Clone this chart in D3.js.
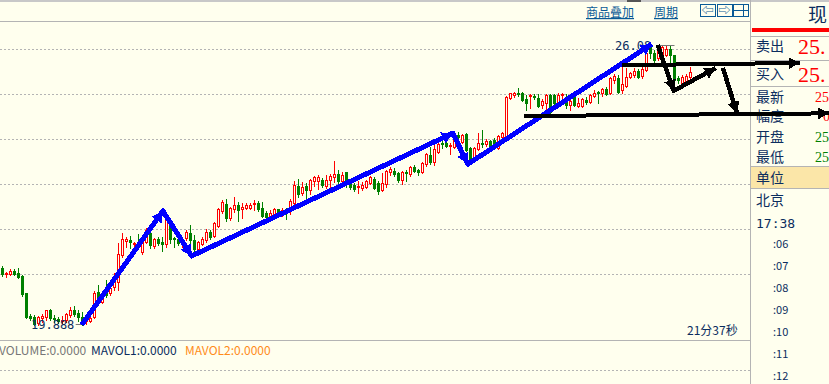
<!DOCTYPE html>
<html>
<head>
<meta charset="utf-8">
<script src="https://cdn.jsdelivr.net/npm/d3@7"></script>
<style>
html, body { margin: 0; padding: 0; background: #ffffee; overflow: hidden; }
svg { display: block; }
text { font-family: "Noto Sans CJK SC", "DejaVu Sans", sans-serif; }
.mono { font-family: "DejaVu Sans Mono", monospace; }
.serif { font-family: "Liberation Serif", serif; }
</style>
</head>
<body>
<script>
const Width = 829;
const Height = 384;

// candles, left to right. g = fell, r = rose
const candleDir = ("grrggggggrrrgggrrrgg" + "grrrgrgrrrrrgrgrrgrg" + "grgggrrggrrrgrrrgrrg" + "rrrrgggrrgrgrrgrgrrr"
  + "grrrgrgggrrrrggrrrgg" + "rgrggrrgrrggrrgrggrr" + "grggrrrrrgggrggrrggr" + "rgrgrrgrrgrgrrgrrrrg" + "rrggrrrgggrrr").split("")

const candleHigh = [21.18,21.04,21.11,21.11,21.13,20.98,20.58,20.11,20.09,20.07,20.11,20.2,20.22,20.09,20.04,20.07,20.13,20.27,20.29,20.2,
  20.16,20.07,20.09,20.62,20.76,20.58,20.87,20.76,21.02,21.69,21.91,21.82,21.84,21.71,21.89,21.87,22.02,21.98,21.8,21.82,
  21.82,22.31,22.16,21.82,21.87,21.8,21.98,22.09,21.87,21.73,21.82,22.0,21.98,22.16,22.47,22.64,22.67,22.49,22.71,22.6,
  22.58,22.58,22.58,22.64,22.62,22.6,22.4,22.42,22.47,22.44,22.47,22.47,22.67,23.07,23.11,23.04,23.02,23.11,23.18,23.2,
  23.13,23.2,23.22,23.51,23.31,23.27,23.27,23.07,23.02,23.07,23.04,23.09,23.18,23.16,23.07,23.24,23.31,23.38,23.36,23.27,
  23.29,23.31,23.4,23.42,23.33,23.49,23.69,23.82,23.89,23.91,23.96,24.04,23.91,24.04,24.16,24.11,24.13,23.82,23.82,24.13,
  24.2,24.0,23.98,24.02,24.09,24.16,24.96,25.02,25.04,25.13,25.04,24.98,25.0,25.0,25.0,24.89,25.0,25.0,25.0,25.02,
  25.02,25.0,24.98,24.98,24.91,24.91,24.93,25.0,25.09,25.07,25.13,25.16,25.38,25.44,25.42,25.6,25.58,25.49,25.58,25.56,
  25.6,25.93,26.07,25.98,26.08,26.07,26.08,26.08,25.87,25.4,25.42,25.44,25.6]
const candleTop = [21.13,21.02,21.07,21.07,21.02,20.96,20.58,20.07,20.04,20.04,20.07,20.2,20.2,20.02,20.0,19.98,20.11,20.2,20.2,20.13,
  20.04,20.02,20.02,20.58,20.6,20.47,20.64,20.69,20.87,21.44,21.78,21.78,21.76,21.69,21.71,21.82,21.98,21.91,21.78,21.78,
  21.71,22.27,22.13,21.8,21.78,21.76,21.93,21.91,21.76,21.71,21.78,21.93,21.93,22.13,22.44,22.6,22.56,22.47,22.53,22.53,
  22.49,22.53,22.53,22.58,22.58,22.47,22.36,22.36,22.44,22.44,22.42,22.42,22.62,22.98,22.96,22.93,22.96,23.09,23.16,23.16,
  23.09,23.09,23.18,23.22,23.22,23.2,23.27,23.02,22.98,22.96,22.98,23.07,23.16,23.11,23.02,23.02,23.29,23.33,23.29,23.24,
  23.27,23.27,23.38,23.38,23.31,23.47,23.67,23.64,23.78,23.89,23.91,23.91,23.87,24.02,24.09,24.09,24.11,23.8,23.8,23.91,
  23.91,23.96,23.96,23.98,24.07,24.13,24.93,25.02,25.02,25.02,25.02,24.89,24.98,24.96,24.91,24.84,24.98,24.98,24.98,24.98,
  25.0,24.82,24.84,24.93,24.8,24.89,24.87,24.98,25.02,25.04,25.11,25.11,25.36,25.4,25.36,25.22,25.38,25.47,25.51,25.51,
  25.56,25.91,26.04,25.91,26.08,26.04,26.0,26.0,25.87,25.36,25.38,25.4,25.49]
const candleBottom = [21.0,21.0,21.0,21.0,20.93,20.56,20.04,20.02,19.89,19.91,20.02,20.04,20.02,20.0,19.96,19.96,19.98,20.09,20.11,20.04,
  19.96,19.96,19.96,20.04,20.38,20.38,20.53,20.58,20.71,20.82,21.42,21.73,21.71,21.67,21.6,21.49,21.71,21.64,21.62,21.69,
  21.67,21.67,21.78,21.78,21.69,21.69,21.8,21.76,21.56,21.56,21.67,21.76,21.82,21.84,22.07,22.4,22.24,22.24,22.44,22.42,
  22.44,22.47,22.47,22.56,22.44,22.29,22.27,22.27,22.33,22.31,22.33,22.38,22.42,22.58,22.78,22.8,22.87,22.87,23.07,23.07,
  22.98,22.96,23.09,23.16,23.07,23.07,23.04,22.93,22.89,22.93,22.91,22.93,23.02,22.91,22.84,22.87,23.0,23.27,23.22,23.09,
  23.09,23.24,23.22,23.29,23.27,23.27,23.44,23.49,23.49,23.71,23.89,23.84,23.84,23.82,24.04,23.93,23.76,23.53,23.6,23.78,
  23.89,23.89,23.82,23.91,23.8,24.04,24.07,24.91,24.98,25.0,24.87,24.8,24.96,24.93,24.73,24.76,24.8,24.6,24.8,24.82,
  24.98,24.76,24.76,24.76,24.73,24.73,24.82,24.82,24.96,25.02,25.02,25.0,25.02,25.31,25.04,25.09,25.18,25.38,25.42,25.38,
  25.4,25.53,25.91,25.76,25.8,25.76,25.87,25.87,25.31,25.31,25.24,25.24,25.38]
const candleLow = [20.96,20.93,20.98,20.98,20.91,20.51,20.02,19.98,19.87,19.87,19.93,19.98,19.98,19.93,19.91,19.91,19.93,20.04,20.07,19.96,
  19.87,19.89,19.93,20.02,20.31,20.36,20.49,20.53,20.64,20.64,21.38,21.6,21.58,21.49,21.58,21.44,21.69,21.58,21.58,21.64,
  21.51,21.6,21.69,21.6,21.64,21.6,21.76,21.58,21.49,21.53,21.64,21.71,21.78,21.82,22.04,22.36,22.18,22.2,22.38,22.18,
  22.24,22.44,22.44,22.42,22.4,22.27,22.22,22.2,22.27,22.29,22.29,22.22,22.33,22.53,22.71,22.76,22.64,22.78,22.96,22.89,
  22.93,22.91,22.91,23.04,23.02,23.0,22.93,22.89,22.84,22.8,22.87,22.91,23.0,22.89,22.78,22.84,22.93,23.2,23.18,23.04,
  23.0,23.07,23.18,23.27,23.2,23.24,23.4,23.44,23.42,23.69,23.8,23.82,23.67,23.8,23.96,23.91,23.73,23.47,23.58,23.76,
  23.82,23.84,23.8,23.84,23.78,23.91,24.02,24.89,24.93,24.96,24.84,24.64,24.69,24.89,24.71,24.69,24.58,24.58,24.76,24.8,
  24.87,24.69,24.64,24.73,24.71,24.71,24.78,24.8,24.93,24.8,24.96,24.98,25.0,25.24,25.02,25.02,25.16,25.36,25.38,25.36,
  25.36,25.51,25.8,25.71,25.76,25.71,25.84,25.69,25.24,25.24,25.2,25.2,25.36]

const gridPrices = [26, 25, 24, 23, 22, 21]
const timeLabels = [":06", ":07", ":08", ":09", ":10", ":11", ":12"]
const quoteLabels = ["卖出", "买入", "最新", "幅度", "开盘", "最低"]

// drawn over the chart by hand: [candle index, price]
const blueTrend = [[19.8,19.87],[40.1,22.4],[47.3,21.4],[112.6,24.13],[116.3,23.44],[162.3,26.11]]
const blackSwing = [[163.8,26.09],[167.8,25.07],[178.3,25.58]]
const blackDrop = [[180.1,25.58],[183.6,24.58]]
const blackUpperLine = [[154.8,25.64],[199.3,25.69]]
const blackLowerLine = [[130.3,24.51],[206.6,24.57]]

const svg = d3.select('body')
  .append('svg')
    .attr('width', Width)
    .attr('height', Height);

const xScale = d3.scaleLinear().domain([0, 172]).range([2.5, 690.5]);
const yScale = d3.scaleLinear().domain([21, 26]).range([274, 49]);

const bg = "#ffffee"
const lineGrey = "#b4b4b4"
const navy = "#0b2d5e"
const red = "#ff0000"
const green = "#008000"

// frame
svg.append('rect').attr('width', Width).attr('height', Height).attr('fill', bg);
svg.append('rect').attr('width', Width).attr('height', 2).attr('fill', '#c8c8c8');
svg.append('rect').attr('x', 627).attr('width', 14).attr('height', 2).attr('fill', '#555');

const hline = (y, x1, x2) => svg.append('line')
  .attr('x1', x1).attr('x2', x2).attr('y1', y + .5).attr('y2', y + .5)
  .attr('stroke', lineGrey);

hline(21, 0, 750);
hline(340, 0, 750);
svg.append('line').attr('x1', 750.5).attr('x2', 750.5).attr('y1', 0).attr('y2', Height).attr('stroke', lineGrey);

// grid
svg.selectAll('.grid')
  .data(gridPrices)
  .join('line')
    .attr('class', 'grid')
    .attr('x1', 0).attr('x2', 750)
    .attr('y1', d => yScale(d) + .5).attr('y2', d => yScale(d) + .5)
    .attr('stroke', lineGrey)
    .attr('stroke-dasharray', '2,2');
svg.append('line').attr('x1', 0).attr('x2', 750).attr('y1', 370.5).attr('y2', 370.5)
  .attr('stroke', lineGrey).attr('stroke-dasharray', '2,2');

// candles
const candles = candleHigh.map((h, i) => ({
  i, high: h, top: candleTop[i], bottom: candleBottom[i], low: candleLow[i], up: candleDir[i] !== 'g'
}));

const candleG = svg.append('g');
candleG.selectAll('.wick')
  .data(candles)
  .join('rect')
    .attr('class', 'wick')
    .attr('x', d => xScale(d.i) - .5)
    .attr('width', 1)
    .attr('y', d => Math.round(yScale(d.high)))
    .attr('height', d => Math.round(yScale(d.low)) - Math.round(yScale(d.high)) + 1)
    .attr('fill', d => d.up ? red : green);

candleG.selectAll('.body')
  .data(candles)
  .join('rect')
    .attr('class', 'body')
    .attr('x', d => xScale(d.i) - 1)
    .attr('width', 2)
    .attr('y', d => Math.round(yScale(d.top)) + .5)
    .attr('height', d => Math.round(yScale(d.bottom)) - Math.round(yScale(d.top)))
    .attr('fill', d => d.up ? bg : green)
    .attr('stroke', d => d.up ? red : green);

// high / low markers
const marker = (price, x1, x2) => svg.append('line')
  .attr('x1', xScale(x1)).attr('x2', xScale(x2))
  .attr('y1', Math.round(yScale(price)) + .5).attr('y2', Math.round(yScale(price)) + .5)
  .attr('stroke', '#777');
marker(19.89, 18.3, 20.5);
marker(26.08, 164, 168);

const label = (str, x, y, size, fill, anchor) => svg.append('text')
  .attr('x', x).attr('y', y)
  .attr('font-size', size)
  .attr('fill', fill)
  .attr('text-anchor', anchor || 'start')
  .text(str);

label("19.888", 31, 329, 12, navy).attr('class', 'mono');
label("26.08", 615, 50, 12, navy).attr('class', 'mono');

// toolbar
label("商品叠加", 586, 17, 12, "#0a5a96").attr('text-decoration', 'underline');
label("周期", 654, 17, 12, "#0a5a96").attr('text-decoration', 'underline');
[700, 717, 733].forEach(x => {
  svg.append('rect').attr('x', x + .5).attr('y', 4.5).attr('width', 15).attr('height', 12)
    .attr('fill', bg).attr('stroke', '#0a5a96');
});
label("⇦", 707.5, 15, 12, "#0a5a96", 'middle');
label("⇨", 724.5, 15, 12, "#0a5a96", 'middle');
svg.append('line').attr('x1', 733).attr('x2', 748).attr('y1', 10.5).attr('y2', 10.5).attr('stroke', '#0a5a96');
svg.append('line').attr('x1', 743.5).attr('x2', 743.5).attr('y1', 4).attr('y2', 17).attr('stroke', '#0a5a96');

// quote panel
label("现", 808, 22, 19, navy);
svg.append('rect').attr('x', 752).attr('y', 28).attr('width', 77).attr('height', 4).attr('fill', red);
[36, 60, 86, 166, 188].forEach(y => hline(y, 751, Width));
svg.append('rect').attr('x', 751).attr('y', 167).attr('width', 78).attr('height', 21).attr('fill', '#fbe6a8');

const quoteY = [51, 79, 102, 121, 142, 162];
quoteLabels.forEach((d, i) => label(d, 756, quoteY[i], 14, navy));
label("25.", 798, 54, 22, red).attr('class', 'serif');
label("25.", 798, 82, 22, red).attr('class', 'serif');
label("25", 815, 102, 14, red).attr('class', 'serif');
label("0", 823, 121, 14, red).attr('class', 'serif');
label("25", 815, 142, 14, green).attr('class', 'serif');
label("25", 815, 162, 14, green).attr('class', 'serif');
label("单位", 756, 183, 14, navy);
label("北京", 756, 205, 14, navy);
label("17:38", 756, 228, 13, navy).attr('class', 'mono');

svg.selectAll('.time')
  .data(timeLabels)
  .join('text')
    .attr('class', 'time')
    .attr('x', 773)
    .attr('y', (d, i) => 248 + i * 22)
    .attr('font-size', 11)
    .attr('fill', navy)
    .text(d => d);

// bottom labels
label("VOLUME:0.0000", -1, 355, 12, "#777");
label("MAVOL1:0.0000", 91, 355, 12, navy);
label("MAVOL2:0.0000", 185, 355, 12, "#ff8c1a");
label("21分37秒", 687, 335, 12, navy);

// hand drawn arrows
const toPx = d => [xScale(d[0]), yScale(d[1])];
const drawn = svg.append('g').attr('shape-rendering', 'crispEdges');

const head = (from, to, color, len, half) => {
  const a = Math.atan2(to[1] - from[1], to[0] - from[0]);
  const bx = to[0] - Math.cos(a) * len;
  const by = to[1] - Math.sin(a) * len;
  const nx = -Math.sin(a) * half;
  const ny = Math.cos(a) * half;
  drawn.append('path')
    .attr('d', d3.line()([to, [bx + nx, by + ny], [bx - nx, by - ny]]) + 'Z')
    .attr('fill', color);
};

const stroke = (points, color, width, heads) => {
  const px = points.map(toPx);
  drawn.append('path')
    .attr('d', d3.line()(px))
    .attr('fill', 'none')
    .attr('stroke', color)
    .attr('stroke-width', width)
    .attr('stroke-linejoin', 'round');
  heads.forEach(n => head(px[n - 1], px[n], color, 11, 6));
};

stroke(blueTrend, "#0000ff", 5, [1, 2, 3, 4, 5]);
stroke(blackUpperLine, "#000", 4, [1]);
stroke(blackLowerLine, "#000", 4, [1]);
stroke(blackSwing, "#000", 4.5, [1, 2]);
stroke(blackDrop, "#000", 4.5, [1]);
</script>
</body>
</html>
